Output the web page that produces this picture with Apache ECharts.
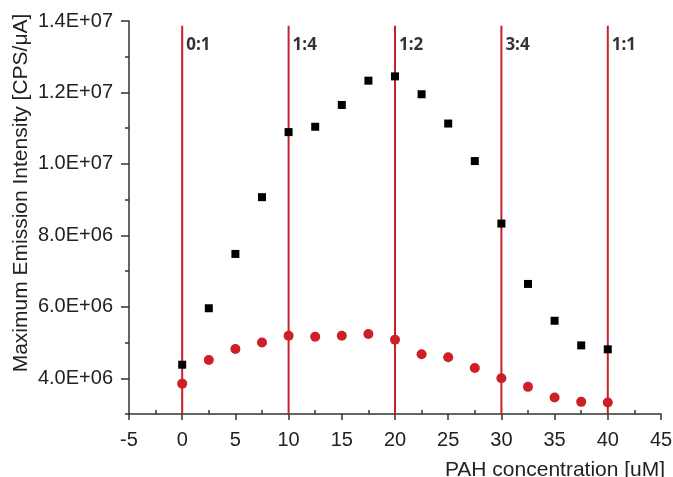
<!DOCTYPE html>
<html>
<head>
<meta charset="utf-8">
<script src="https://cdn.jsdelivr.net/npm/echarts@6/dist/echarts.min.js"></script>
<style>
  html, body { margin: 0; padding: 0; background: #fff; }
  #chart { width: 673px; height: 477px; }
</style>
</head>
<body>
<div id="chart"></div>
<script>
// PAH concentration [uM]
const concentration = [0, 2.5, 5, 7.5, 10, 12.5, 15, 17.5, 20, 22.5, 25, 27.5, 30, 32.5, 35, 37.5, 40];
// black squares
const squareValues = [4.38e6, 5.96e6, 7.48e6, 9.07e6, 10.89e6, 11.04e6, 11.65e6, 12.33e6, 12.45e6,
  11.95e6, 11.13e6, 10.08e6, 8.33e6, 6.64e6, 5.61e6, 4.92e6, 4.81e6];
// red circles
const circleValues = [3.85e6, 4.51e6, 4.82e6, 5.00e6, 5.19e6, 5.16e6, 5.19e6, 5.24e6, 5.08e6,
  4.67e6, 4.59e6, 4.29e6, 4.00e6, 3.76e6, 3.46e6, 3.34e6, 3.32e6];
// ratio marker lines
const ratioX = [0, 10, 20, 30, 40];
const ratioLabels = ['0:1', '1:4', '1:2', '3:4', '1:1'];
const lineTop = 13.87e6;
const labelY = 13.31e6;
// y tick values
const yMajorTicks = [4e6, 6e6, 8e6, 10e6, 12e6, 14e6];
const yMinorTicks = [3e6, 5e6, 7e6, 9e6, 11e6, 13e6];

const red = '#c8202a';
const font = 'Liberation Sans';

function sci(v) {
  let s = v.toExponential(1).toUpperCase();
  return s.replace(/E([+-])(\d)$/, 'E$10$2');
}

let chart = echarts.init(document.getElementById('chart'));

let series = [];
ratioX.forEach((x, i) => {
  series.push({
    type: 'line',
    data: [[x, 3e6], [x, lineTop]],
    symbol: 'none',
    silent: true,
    lineStyle: { color: red, width: 2 },
    z: 1
  });
});
series.push({
  type: 'scatter',
  data: ratioX.map((x, i) => ({ value: [x, labelY], name: ratioLabels[i] })),
  symbolSize: 0,
  label: {
    show: true,
    position: 'right',
    distance: 4,
    formatter: p => p.name,
    color: '#000',
    fontFamily: 'Open Sans',
    fontWeight: 'bold',
    fontSize: 17
  },
  z: 3
});
series.push({
  type: 'scatter',
  data: concentration.map((x, i) => [x, squareValues[i]]),
  symbol: 'rect',
  symbolSize: 8,
  itemStyle: { color: '#000', opacity: 1 },
  z: 4
});
series.push({
  type: 'scatter',
  data: concentration.map((x, i) => [x, circleValues[i]]),
  symbol: 'circle',
  symbolSize: 10,
  itemStyle: { color: '#cc1f26', opacity: 1 },
  z: 4
});

const option = {
  animation: false,
  grid: { left: 129, right: 12, top: 21, bottom: 63, outerBoundsMode: 'none', containLabel: false },
  xAxis: {
    type: 'value',
    min: -5,
    max: 45,
    interval: 5,
    name: 'PAH concentration [uM]',
    nameLocation: 'middle',
    nameGap: 46,
    nameMoveOverlap: false,
    nameTextStyle: { fontFamily: font, fontSize: 21, color: '#222', padding: [0, 0, 0, 320] },
    axisLine: { onZero: false, lineStyle: { color: '#333', width: 1.5 } },
    axisTick: { length: 6, lineStyle: { color: '#333', width: 1.5 } },
    minorTick: { show: true, splitNumber: 2, length: -4, lineStyle: { color: '#333', width: 1.5 } },
    axisLabel: { fontFamily: font, fontSize: 20, color: '#222', margin: 16 },
    splitLine: { show: false }
  },
  yAxis: [{
    type: 'value',
    min: 3e6,
    max: 14e6,
    interval: 1e6,
    name: 'Maximum Emission Intensity [CPS/\u03bcA]',
    nameLocation: 'middle',
    nameGap: 97,
    nameMoveOverlap: false,
    nameTextStyle: { fontFamily: font, fontSize: 21, color: '#222', padding: [0, 0, 0, 49] },
    axisLine: { onZero: false, lineStyle: { color: '#333', width: 1.5 } },
    axisTick: { length: 8, customValues: yMajorTicks, lineStyle: { color: '#333', width: 1.5 } },
    axisLabel: {
      fontFamily: font, fontSize: 20, color: '#222', margin: 16,
      customValues: yMajorTicks,
      formatter: v => sci(v)
    },
    splitLine: { show: false }
  }, {
    type: 'value',
    position: 'left',
    offset: 0,
    min: 3e6,
    max: 14e6,
    interval: 1e6,
    axisLine: { show: false, onZero: false },
    axisTick: { show: true, length: 4, customValues: yMinorTicks, lineStyle: { color: '#333', width: 1.5 } },
    axisLabel: { show: false },
    splitLine: { show: false }
  }],
  series: series
};
chart.setOption(option);
window.addEventListener('resize', () => {
  chart.resize();
});
</script>
</body>
</html>
